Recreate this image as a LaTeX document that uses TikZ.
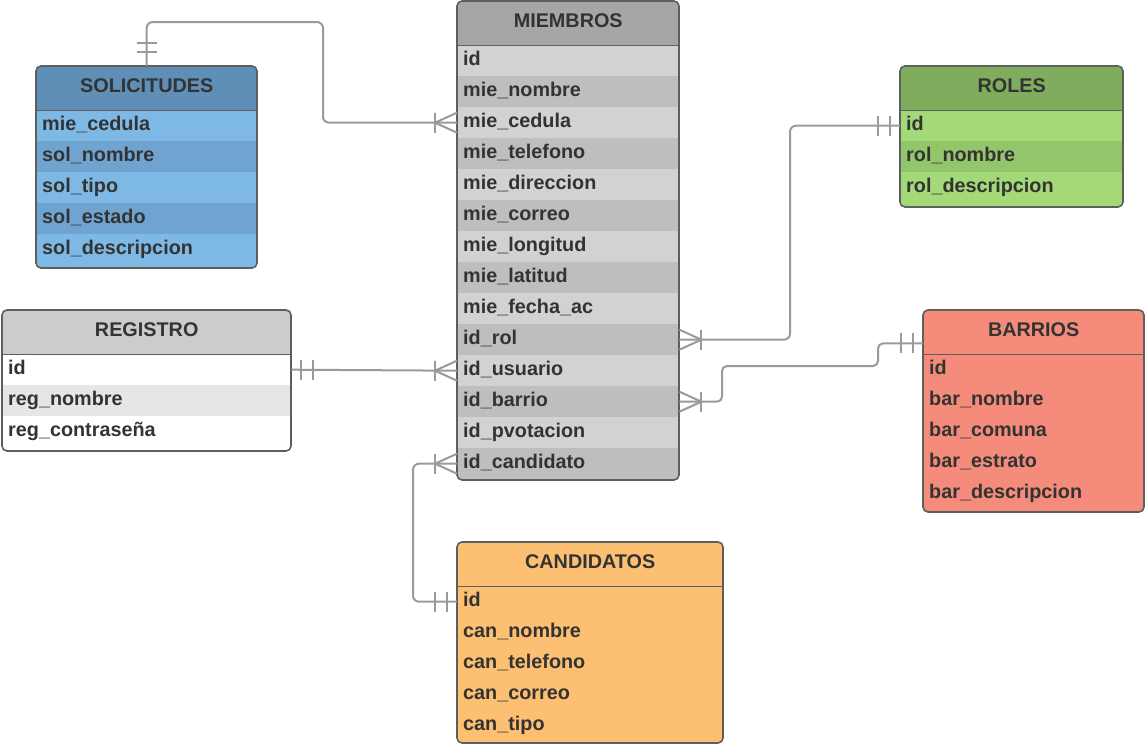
\documentclass[tikz,border=0pt]{standalone}
\usepackage{fontspec}
\setmainfont{Liberation Sans}
\usetikzlibrary{calc}
\definecolor{txtc}{HTML}{333333}
\definecolor{borderc}{HTML}{5E5E5E}
\definecolor{connc}{HTML}{9A9A9A}
\definecolor{solH}{HTML}{5F8EB7}
\definecolor{solA}{HTML}{7EB9E5}
\definecolor{solB}{HTML}{70A4D0}
\definecolor{mieH}{HTML}{A6A6A6}
\definecolor{mieA}{HTML}{D2D2D2}
\definecolor{mieB}{HTML}{BEBEBE}
\definecolor{rolH}{HTML}{7FAD5D}
\definecolor{rolA}{HTML}{A3D977}
\definecolor{rolB}{HTML}{93C66B}
\definecolor{regH}{HTML}{CCCCCC}
\definecolor{regA}{HTML}{FFFFFF}
\definecolor{regB}{HTML}{E6E6E6}
\definecolor{barC}{HTML}{F48B7B}
\definecolor{canC}{HTML}{FDBF71}
\newcommand\rowfont{\fontsize{19.8}{22}\selectfont\bfseries}
\tikzset{
  conn/.style={draw=connc, line width=2pt},
  border/.style={draw=borderc, line width=1.6pt},
  headbox/.style={anchor=north west, minimum height=44pt, inner sep=0pt, font=\rowfont, text=txtc, text height=14pt, text depth=5pt},
  rowbox/.style={anchor=north west, minimum height=31pt, inner xsep=6pt, inner ysep=0pt, align=left, font=\rowfont, text=txtc, text height=13pt, text depth=4pt},
}
% #1 name #2 x #3 ytop #4 width #5 height #6 title #7 header colour #8 rows #9 bottom colour
\newcommand{\mkentity}[9]{%
  \pgfmathsetmacro\entw{#4-12}%
  \begin{scope}
    \clip[rounded corners=5pt] (#2,#3) rectangle ++(#4,#5);
    \fill[#9] (#2,#3) rectangle ++(#4,#5);
    \node[headbox, fill=#7, minimum width=#4pt] (#1-h) at (#2,#3) {#6};
    \foreach \t/\c [count=\i] in {#8}{
      \node[rowbox, fill=\c, text width=\entw pt] (#1-\i) at (#2,{#3+44+31*(\i-1)}) {\t};
    }
  \end{scope}
  \draw[border, rounded corners=5pt] (#2,#3) rectangle ++(#4,#5);
  \draw[border] (#1-h.south west) -- (#1-h.south east);
}
% crow's foot, line arriving from the left / right
\newcommand\crowL[1]{%
  \draw[conn] ($(#1)+(-22,-10)$) -- ($(#1)+(-22,10)$);
  \draw[conn] ($(#1)+(-22,0)$) -- ($(#1)+(0,-10)$);
  \draw[conn] ($(#1)+(-22,0)$) -- ($(#1)+(0,10)$);
}
\newcommand\crowR[1]{%
  \draw[conn] ($(#1)+(22,-10)$) -- ($(#1)+(22,10)$);
  \draw[conn] ($(#1)+(22,0)$) -- ($(#1)+(0,-10)$);
  \draw[conn] ($(#1)+(22,0)$) -- ($(#1)+(0,10)$);
}
% double bars (exactly one)
\newcommand\barsL[1]{%
  \draw[conn] ($(#1)+(-10,-10)$) -- ($(#1)+(-10,10)$);
  \draw[conn] ($(#1)+(-22,-10)$) -- ($(#1)+(-22,10)$);
}
\newcommand\barsR[1]{%
  \draw[conn] ($(#1)+(10,-10)$) -- ($(#1)+(10,10)$);
  \draw[conn] ($(#1)+(22,-10)$) -- ($(#1)+(22,10)$);
}
\newcommand\barsU[1]{%
  \draw[conn] ($(#1)+(-10,-14)$) -- ($(#1)+(10,-14)$);
  \draw[conn] ($(#1)+(-10,-23)$) -- ($(#1)+(10,-23)$);
}
\begin{document}
\begin{tikzpicture}[x=1pt,y=-1pt]
\useasboundingbox[fill=white] (0,0) rectangle (1145,744);

\mkentity{sol}{36}{66}{221}{202}{SOLICITUDES}{solH}{mie\_cedula/solA, sol\_nombre/solB, sol\_tipo/solA, sol\_estado/solB, sol\_descripcion/solA}{solA}

\mkentity{mie}{457}{1}{222}{479}{MIEMBROS}{mieH}{id/mieA, mie\_nombre/mieB, mie\_cedula/mieA, mie\_telefono/mieB, mie\_direccion/mieA, mie\_correo/mieB, mie\_longitud/mieA, mie\_latitud/mieB, mie\_fecha\_ac/mieA, id\_rol/mieB, id\_usuario/mieA, id\_barrio/mieB, id\_pvotacion/mieA, id\_candidato/mieB}{mieB}

\mkentity{rol}{900}{66}{223}{141}{ROLES}{rolH}{id/rolA, rol\_nombre/rolB, rol\_descripcion/rolA}{rolA}

\mkentity{reg}{2}{310}{289}{141}{REGISTRO}{regH}{id/regA, reg\_nombre/regB, reg\_contraseña/regA}{regA}

\mkentity{bar}{923}{310}{221}{202}{BARRIOS}{barC}{id/barC, bar\_nombre/barC, bar\_comuna/barC, bar\_estrato/barC, bar\_descripcion/barC}{barC}

\mkentity{can}{457}{542}{266}{201}{CANDIDATOS}{canC}{id/canC, can\_nombre/canC, can\_telefono/canC, can\_correo/canC, can\_tipo/canC}{canC}

% bend points
\coordinate (c1) at (323,22);
\coordinate (c2) at (790,200);
\coordinate (b0) at ($(bar-h.south west)+(0,-11)$);
\coordinate (c3a) at (878,354);
\coordinate (c3b) at (722,366);
\coordinate (c5) at (413,530);

\draw[conn, rounded corners=6pt] (sol-h.north) |- (c1) |- (mie-3.west);
\draw[conn, rounded corners=6pt] (rol-1.west) -| (c2) |- (mie-10.east);
\draw[conn, rounded corners=5pt] (b0) -| (c3a) |- (c3b) |- (mie-12.east);
\draw[conn] (reg-1.east) -- (mie-11.west);
\draw[conn, rounded corners=6pt] (can-1.west) -| (c5) |- (mie-14.west);

\barsU{sol-h.north}
\crowL{mie-3.west}
\barsL{rol-1.west}
\crowR{mie-10.east}
\barsL{b0}
\crowR{mie-12.east}
\barsR{reg-1.east}
\crowL{mie-11.west}
\barsL{can-1.west}
\crowL{mie-14.west}
\end{tikzpicture}
\end{document}
